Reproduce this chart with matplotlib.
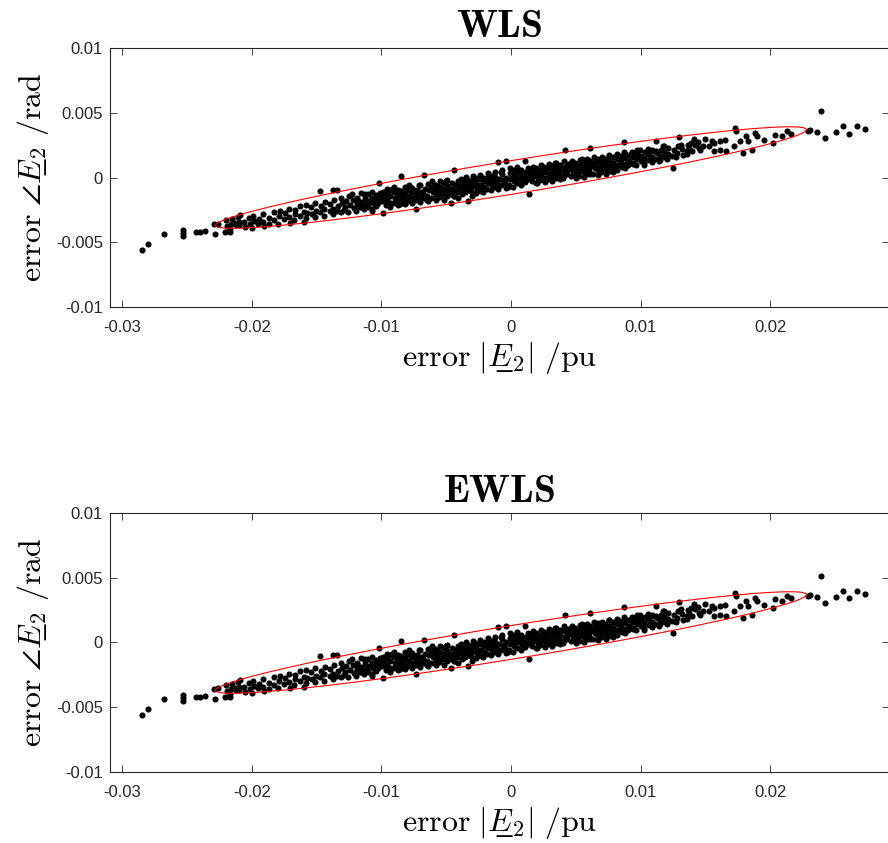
import numpy as np
import matplotlib
matplotlib.use('Agg')
import matplotlib.pyplot as plt

# error samples, in units of 1e-3 (pu for magnitude, rad for angle)
tail_left_mag = [-28.5, -28.0, -26.8, -25.3, -25.3, -25.3, -24.3, -24.0, -23.6, -22.8, -22.9, -22.1, -21.7, -21.7, -21.2, -21.0, -20.9]
tail_left_ang = [-5.56, -5.15, -4.38, -4.07, -4.27, -4.48, -4.17, -4.17, -4.12, -4.38, -3.60, -4.22, -4.22, -3.96, -3.70, -3.45, -2.86]

tail_right_mag = [23.9, 22.9, 23.1, 23.6, 24.2, 25.1, 25.6, 26.1, 26.7, 27.3, 20.4, 20.9, 21.3, 21.6, 20.2]
tail_right_ang = [5.12, 3.58, 3.68, 3.50, 3.04, 3.50, 4.00, 3.40, 4.00, 3.76, 3.32, 3.24, 3.58, 3.40, 2.63]

band_mag = [
    -22.6, -22.0, -21.9, -21.6, -21.5, -21.3, -21.05, -20.95, -20.6, -20.5,
    -20.2, -20.1, -19.95, -19.85, -19.9, -19.5, -19.45, -19.1, -19.15, -19.05,
    -18.7, -18.65, -18.3, -18.25, -17.9, -17.95, -17.85, -17.5, -17.45, -17.1,
    -17.15, -17.05, -16.7, -16.75, -16.65, -16.3, -16.25, -16.0, -15.95,
    -15.8, -15.75, -15.85, -15.4, -15.35, -15.1, -15.05, -15.15, -14.7, -14.65,
    -14.75, -14.4, -14.35, -14.45, -14.0, -13.95, -13.7, -13.65, -13.75, -13.7,
    -13.4, -13.35, -13.45, -13.1, -13.05, -13.15, -12.8, -12.75, -12.85, -12.5,
    -12.45, -12.55, -12.2, -12.15, -12.25, -11.9, -11.85, -11.95, -11.6, -11.55,
    -11.65, -11.3, -11.25, -11.35, -11.3, -11.0, -10.95, -11.05, -10.7, -10.65,
    -10.75, -10.7, -10.4, -10.35, -10.45, -10.2, -10.15, -10.25,
    -9.9, -9.85, -9.95, -9.8, -9.6, -9.55, -9.65, -9.6,
    -9.3, -9.25, -9.35, -9.3, -9.0, -8.95, -9.05, -9.0,
    -8.7, -8.65, -8.75, -8.7, -8.5, -8.45, -8.55, -8.5,
    -8.2, -8.15, -8.25, -8.2, -7.9, -7.85, -7.95, -7.9,
    -7.6, -7.55, -7.65, -7.6, -7.3, -7.25, -7.35, -7.3,
    -7.0, -6.95, -7.05, -7.0, -6.7, -6.65, -6.75, -6.7,
    -6.4, -6.35, -6.45, -6.4, -6.1, -6.05, -6.15, -6.1,
    -5.8, -5.75, -5.85, -5.8, -5.5, -5.45, -5.55, -5.5,
    -5.2, -5.15, -5.25, -5.2, -4.9, -4.85, -4.95, -4.9,
    -4.6, -4.55, -4.65, -4.6, -4.4, -4.35, -4.45, -4.4,
    -4.1, -4.05, -4.15, -4.1,
    -3.8, -3.75, -3.85, -3.8, -3.5, -3.45, -3.55, -3.5,
    -3.3, -3.25, -3.35, -3.3, -3.0, -2.95, -3.05, -3.0,
    -2.7, -2.65, -2.75, -2.7, -2.4, -2.35, -2.45, -2.4,
    -2.1, -2.05, -2.15, -2.1, -1.8, -1.75, -1.85, -1.8,
    -1.5, -1.45, -1.55, -1.5, -1.2, -1.15, -1.25, -1.2,
    -1.0, -0.95, -1.05, -1.0, -0.7, -0.65, -0.75, -0.7,
    -0.4, -0.35, -0.45, -0.4, -0.1, -0.05, -0.15, -0.1,
    0.2, 0.25, 0.15, 0.2, 0.5, 0.55, 0.45, 0.5,
    0.8, 0.85, 0.75, 0.8, 1.1, 1.15, 1.05, 1.1,
    1.4, 1.45, 1.35, 1.4, 1.7, 1.75, 1.65, 1.7,
    2.0, 2.05, 1.95, 2.0, 2.3, 2.35, 2.25, 2.3,
    2.6, 2.65, 2.55, 2.6, 2.9, 2.95, 2.85, 2.9,
    3.2, 3.25, 3.15, 3.2, 3.5, 3.55, 3.45, 3.5,
    3.8, 3.85, 3.75, 3.8, 4.1, 4.15, 4.05, 4.1,
    4.2, 4.45, 4.35, 4.4, 4.7, 4.75, 4.65, 4.7,
    5.0, 5.05, 4.95, 5.0, 5.3, 5.35, 5.25, 5.3,
    5.6, 5.65, 5.55, 5.6, 5.9, 5.95, 5.85, 5.9,
    6.1, 6.15, 6.05, 6.1, 6.4, 6.45, 6.35, 6.4,
    6.7, 6.75, 6.65, 6.7, 7.0, 7.05, 6.95, 7.0,
    7.3, 7.35, 7.25, 7.3, 7.6, 7.65, 7.55, 7.6,
    7.9, 7.95, 7.85, 7.9,
    8.2, 8.25, 8.15, 8.7, 8.5, 8.55, 8.45, 8.8,
    8.85, 8.75, 8.8, 9.1, 9.15, 9.05, 9.4, 9.45,
    9.35, 9.7, 9.75, 9.65, 10.0, 10.05, 9.95, 10.3,
    10.35, 10.25, 10.6, 10.65, 10.55, 10.9, 10.95, 10.85,
    11.2, 11.25, 11.15, 11.5, 11.55, 11.45, 11.8, 11.85,
    11.75, 12.1, 12.15, 12.05, 12.5, 12.55, 12.45, 12.8,
    12.85, 12.75, 13.2, 13.25, 13.15, 13.6, 13.65, 13.55,
    13.0, 14.1, 14.4, 15.0, 13.7, 14.0, 14.6, 15.7,
    16.1, 16.5, 15.7, 16.1, 16.6, 17.3, 17.4, 17.2,
    17.7, 18.1, 18.3, 18.6, 18.8, 19.0, 19.5, 17.9,
    14.2, 14.8, 15.3, 13.9, 15.5, 14.5,
]
band_ang = [
    -3.55, -3.30, -3.75, -3.60, -3.20, -3.50, -3.05, -3.70, -3.40, -3.85,
    -3.10, -3.60, -3.90, -3.35, -2.95, -3.55, -3.20, -2.80, -3.45, -3.75,
    -3.10, -3.60, -2.65, -3.30, -3.00, -3.55, -2.55, -3.20, -2.75, -2.40,
    -3.05, -3.50, -2.85, -3.30, -2.50, -2.20, -3.00, -2.70, -3.45,
    -2.10, -2.75, -3.10, -2.30, -2.85, -1.95, -2.60, -3.05, -1.05, -2.20,
    -2.70, -2.45, -1.90, -2.95, -2.05, -2.60, -0.93, -1.75, -2.40, -2.85,
    -0.98, -2.20, -2.55, -1.60, -2.00, -2.70, -2.30, -1.80, -2.50, -1.45,
    -2.15, -2.65, -1.75, -2.35, -1.30, -2.05, -1.55, -2.55, -1.20, -1.90,
    -2.30, -1.65, -2.10, -2.45, -1.40, -1.25, -1.85, -2.25, -1.55, -2.00,
    -2.55, -1.10, -1.35, -1.80, -2.20, -0.40, -1.60, -2.00,
    -2.73, -1.10, -1.85, -1.40, -1.20, -1.70, -2.10, -0.85,
    -1.45, -1.95, -0.95, -2.30, -1.15, -1.60, -2.00, -0.70,
    -1.30, -1.75, -0.95, -2.15, 0.12, -1.05, -1.50, -1.90,
    -0.75, -1.25, -1.65, -2.05, -1.00, -1.40, -1.85, -0.55,
    -1.15, -1.55, -0.80, -2.00, -2.45, -0.95, -1.35, -1.70,
    -0.60, -1.10, -1.50, -1.90, 0.20, -0.85, -1.25, -1.60,
    -0.50, -1.00, -1.40, -1.80, -0.75, -1.15, -1.55, -0.30,
    -0.95, -1.35, -0.55, -1.75, -0.70, -1.10, -1.50, -0.25,
    -0.45, -0.90, -1.30, -1.70, -0.65, -1.05, -0.20, -1.45,
    -1.95, -0.40, -0.85, -1.25, 0.56, -0.60, -1.00, -1.40,
    -0.30, -0.75, -1.15, -1.60,
    -0.50, -0.90, -0.15, -1.30, -0.35, -0.75, -1.15, 0.05,
    -1.83, -0.60, -0.95, -0.20, -0.25, -0.65, -1.05, -1.45,
    -0.45, -0.85, -0.05, -1.20, -0.15, -0.55, -0.95, 0.20,
    -0.30, -0.70, -1.10, 0.00, -0.05, -0.45, -0.85, 0.35,
    -0.20, -0.60, -1.00, 0.15, 0.05, -0.35, -0.75, 0.45,
    1.20, -0.10, -0.50, -0.90, 0.25, -0.20, -0.60, 0.60,
    1.30, 0.00, -0.40, -0.80, 0.35, -0.10, -0.55, 0.70,
    0.15, -0.25, -0.70, 0.55, 0.40, 0.00, -0.40, 0.80,
    0.20, -0.20, -0.60, 0.60, 1.26, 0.45, 0.05, -0.35,
    -1.24, 0.25, -0.15, 0.65, 0.50, 0.10, -0.30, 0.85,
    0.35, -0.05, 0.75, -0.45, 0.60, 0.20, -0.20, 1.00,
    0.40, 0.00, 0.80, -0.35, 0.70, 0.30, -0.10, 1.05,
    0.50, 0.10, 0.90, -0.25, 0.75, 0.35, -0.05, 1.15,
    0.55, 0.15, 0.95, -0.15, 0.85, 0.45, 0.05, 1.25,
    2.10, 0.65, 0.25, 1.05, 0.90, 0.50, 0.10, 1.30,
    0.70, 0.30, 1.10, -0.05, 0.95, 0.55, 0.15, 1.35,
    0.80, 0.40, 1.20, 0.05, 1.05, 0.65, 0.25, 1.45,
    2.30, 0.90, 0.50, 1.30, 1.10, 0.70, 0.30, 1.55,
    0.95, 0.55, 1.35, 0.20, 1.20, 0.80, 0.40, 1.60,
    1.05, 0.65, 1.45, 0.30, 1.30, 0.90, 0.50, 1.70,
    1.10, 0.75, 1.55, 0.40,
    1.40, 0.95, 1.80, 2.75, 1.20, 0.80, 1.65, 1.50,
    1.05, 1.95, 0.70, 1.30, 1.75, 0.95, 1.60, 1.15,
    2.00, 1.40, 1.85, 1.00, 1.70, 1.25, 2.10, 1.50,
    1.95, 1.10, 1.80, 1.35, 2.20, 1.60, 2.05, 1.20,
    2.80, 1.90, 1.45, 1.70, 2.15, 1.30, 2.00, 1.55,
    2.40, 1.80, 2.25, 1.40, 0.75, 2.10, 1.65, 1.90,
    2.40, 1.60, 2.20, 1.75, 2.55, 2.05, 2.50, 1.80,
    3.14, 2.99, 2.73, 2.99, 2.30, 2.03, 2.16, 2.68,
    2.80, 2.93, 2.03, 2.16, 2.03, 3.84, 3.58, 2.42,
    2.80, 3.19, 2.80, 2.16, 3.45, 3.19, 2.93, 1.90,
    2.55, 2.45, 2.40, 2.65, 2.85, 2.25,
]

# extra samples filling the dense core of the cloud
core_mag = [
    -11.9, -11.6, -11.3, -11.0, -10.7, -10.4, -10.1, -9.8, -9.5, -9.2,
    -8.9, -8.6, -8.3, -8.0, -7.7, -7.4, -7.1, -6.8, -6.5, -6.2,
    -5.9, -5.6, -5.3, -5.0, -4.7, -4.4, -4.1, -3.8, -3.5, -3.2,
    -2.9, -2.6, -2.3, -2.0, -1.7, -1.4, -1.1, -0.8, -0.5, -0.2,
    0.1, 0.4, 0.7, 1.0, 1.3, 1.6, 1.9, 2.2, 2.5, 2.8,
    3.1, 3.4, 3.7, 4.0, 4.3, 4.6, 4.9, 5.2, 5.5, 5.8,
    6.1, 6.4, 6.7, 7.0, 7.3, 7.6, 7.9, 8.2, 8.5, 8.8,
    9.1, 9.4, 9.7, 10.0, 10.3, 10.6, 10.9, 11.2, 11.5, 11.8,
]
core_ang = [
    -1.65, -2.31, -1.26, -1.91, -2.41, -1.56, -1.22, -1.32, -1.97, -0.92,
    -1.57, -2.08, -1.23, -0.88, -0.98, -1.63, -0.59, -1.24, -1.74, -0.89,
    -0.54, -0.65, -1.30, -0.25, -0.90, -1.40, -0.56, -0.21, -0.31, -0.96,
    0.09, -0.57, -1.07, -0.22, 0.13, 0.03, -0.63, 0.42, -0.23, -0.73,
    0.12, 0.46, 0.36, -0.29, 0.76, 0.11, -0.40, 0.45, 0.80, 0.70,
    0.05, 1.09, 0.44, -0.06, 0.79, 1.14, 1.03, 0.38, 1.43, 0.78,
    0.28, 1.12, 1.47, 1.37, 0.72, 1.77, 1.11, 0.61, 1.46, 1.81,
    1.71, 1.05, 2.10, 1.45, 0.95, 1.80, 2.14, 2.04, 1.39, 2.44,
]

# confidence ellipse: centre, std devs (1e-3 units), correlation
ell_center = (0.0, 0.0)
ell_sx = 22.8
ell_sy = 3.92
ell_rho = 0.943

panel_titles = ['WLS', 'EWLS']
xticks = [-0.03, -0.02, -0.01, 0, 0.01, 0.02]
xticklabels = ['-0.03', '-0.02', '-0.01', '0', '0.01', '0.02']
yticks = [-0.01, -0.005, 0, 0.005, 0.01]
yticklabels = ['-0.01', '-0.005', '0', '0.005', '0.01']

plt.rcParams['mathtext.fontset'] = 'cm'
plt.rcParams['font.family'] = 'Liberation Sans'

mag = np.array(tail_left_mag + band_mag + core_mag + tail_right_mag) * 1e-3
ang = np.array(tail_left_ang + band_ang + core_ang + tail_right_ang) * 1e-3

t = np.linspace(0, 2 * np.pi, 400)
ell_x = ell_center[0] * 1e-3 + ell_sx * 1e-3 * np.cos(t)
ell_y = ell_center[1] * 1e-3 + ell_sy * 1e-3 * (ell_rho * np.cos(t) + np.sqrt(1 - ell_rho ** 2) * np.sin(t))

# underlined E via combining low line
E_ul = 'E\u0332'
xlab = '$\\mathrm{error}\\ |' + E_ul + '_2|\\ /\\mathrm{pu}$'
ylab = '$\\mathrm{error}\\ \\angle ' + E_ul + '_2\\ /\\mathrm{rad}$'

axcol = '#262626'
fig = plt.figure(figsize=(8.88, 8.43), dpi=100)
positions = [[110 / 888, 0.6358, 778.5 / 888, 0.3072],
             [110 / 888, 0.0842, 778.5 / 888, 0.3073]]

for pos, title in zip(positions, panel_titles):
    ax = fig.add_axes(pos)
    ax.plot(mag, ang, 'o', color='black', markersize=4.4, markeredgewidth=0)
    ax.plot(ell_x, ell_y, color='red', linewidth=0.8)
    ax.set_xlim(-0.03094, 0.02913)
    ax.set_ylim(-0.01, 0.01)
    ax.set_xticks(xticks)
    ax.set_xticklabels(xticklabels)
    ax.set_yticks(yticks)
    ax.set_yticklabels(yticklabels)
    ax.tick_params(direction='in', length=5, width=0.6, top=True, right=True,
                   colors=axcol, labelsize=12)
    ax.tick_params(axis='x', pad=9)
    ax.tick_params(axis='y', pad=5)
    for s in ax.spines.values():
        s.set_color(axcol)
        s.set_linewidth(0.8)
    ax.set_title(r'$\mathbf{' + title + '}$', fontsize=28.5, pad=8)
    ax.set_xlabel(xlab, fontsize=23, labelpad=4)
    ax.set_ylabel(ylab, fontsize=23, labelpad=4)

fig.savefig('out.png', dpi=100)
